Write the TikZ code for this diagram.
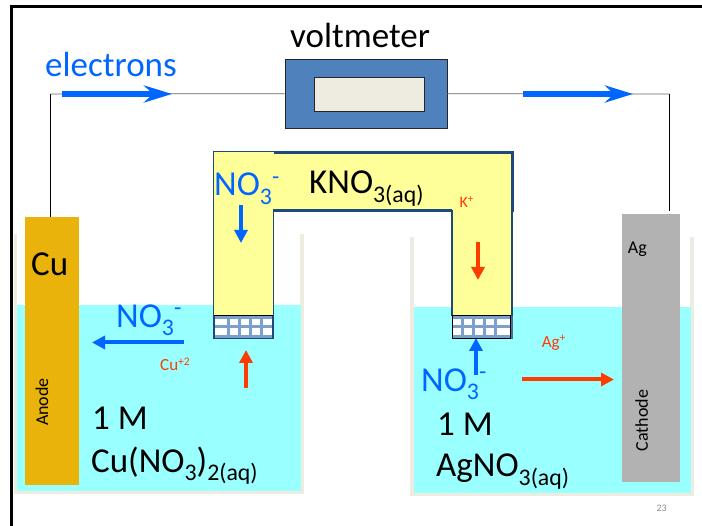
\documentclass[tikz,border=0pt]{standalone}
\usepackage{fontspec}
\setmainfont{Carlito}
\usetikzlibrary{arrows.meta}

\definecolor{copperfill}{HTML}{E9B30B}
\definecolor{silverfill}{HTML}{B2B2B2}
\definecolor{waterfill}{HTML}{99FFFF}
\definecolor{wallcolor}{HTML}{EEECE1}
\definecolor{bridgefill}{HTML}{FFFF99}
\definecolor{bridgeline}{HTML}{1F497D}
\definecolor{meterfill}{HTML}{4F81BD}
\definecolor{elecblue}{HTML}{0066FF}
\definecolor{ionred}{HTML}{FF3C00}

\newcommand{\lowtext}[1]{\raisebox{-.23em}{\scalebox{.68}{#1}}}
\newcommand{\hightext}[1]{\raisebox{.34em}{\scalebox{.68}{#1}}}

\tikzset{
  bigtext/.style={anchor=base west, inner sep=0pt, font=\fontsize{35}{35}\selectfont},
  midtext/.style={anchor=base west, inner sep=0pt, font=\fontsize{18}{18}\selectfont},
  tinytext/.style={anchor=base west, inner sep=0pt, text=ionred, font=\fontsize{17}{17}\selectfont},
  electrode/.style={inner sep=0pt, minimum width=#1, anchor=north west},
  meterbox/.style={draw=black!85, inner sep=0pt, anchor=north west},
  wire/.style={line width=.8pt, draw=black},
  flowarrow/.style={line width=6pt, draw=elecblue, -{Stealth[length=28pt, width=17pt, inset=9pt]}},
  bluearrow/.style={line width=4pt, draw=elecblue, -{Triangle[length=13pt, width=13pt]}},
  redarrow/.style={line width=4pt, draw=ionred, -{Triangle[length=13pt, width=13pt]}},
  gridline/.style={line width=3pt, draw=meterfill!75},
}

\begin{document}
\begin{tikzpicture}[x=1pt, y=-1pt]
  \useasboundingbox (0,0) rectangle (702,526);

  % slide frame
  \draw[line width=3pt] (11,526) -- (11,7) -- (702,7);

  % beakers
  \draw[wallcolor, line width=3.5pt] (15.5,234) -- (15.5,492.5) -- (302,492.5) -- (302,234);
  \draw[wallcolor, line width=3.5pt] (412,237) -- (412,494.5) -- (692,494.5) -- (692,237);
  \fill[waterfill] (17,305) rectangle (301,491);
  \fill[waterfill] (414,307) rectangle (691,493);

  % electrodes
  \node[electrode=54pt, minimum height=268pt, fill=copperfill] (cu) at (25,217) {};
  \node[electrode=58pt, minimum height=268pt, fill=silverfill] (ag) at (622,214) {};

  % voltmeter
  \node[meterbox, fill=meterfill, minimum width=162.5pt, minimum height=69pt] (voltmeter) at (284.5,59) {};
  \node[meterbox, fill=wallcolor, minimum width=110pt, minimum height=34.5pt] (display) at (313.5,76.7) {};

  % wires
  \coordinate (wireleft) at (50.5,94);
  \coordinate (wireright) at (669.3,94);
  \coordinate (wireend) at (669.3,210.7);
  \draw[wire] (wireleft |- cu.north) -- (wireleft);
  \draw[wire, draw=black!60] (wireleft) -- (voltmeter.west);
  \draw[wire, draw=black!60] (voltmeter.east) -- (wireright);
  \draw[wire] (wireright) -- (wireend);

  % salt bridge
  \filldraw[fill=bridgefill, draw=bridgeline, line width=3pt] (214,152.5) rectangle (512,210.5);
  \fill[bridgefill] (213.5,152) rectangle (273.5,316);
  \fill[bridgefill] (452,209) rectangle (512,316);
  \draw[bridgeline, line width=1.2pt] (213.5,151) -- (213.5,316);
  \draw[bridgeline, line width=1.2pt] (273.5,209.5) -- (273.5,316);
  \draw[bridgeline, line width=1.2pt] (452,210) -- (452,316);
  \draw[bridgeline, line width=1.2pt] (512,209) -- (512,316);

  % plugs at the ends of the bridge
  \fill[white] (214,316) rectangle (273,338.5);
  \foreach \x in {228,239,250,261} {
    \draw[gridline] (\x,316) -- (\x,338.5);
  }
  \draw[gridline] (214,326.7) -- (273,326.7);
  \draw[gridline] (214,318) -- (273,318);
  \draw[gridline] (214,337) -- (273,337);
  \draw[bridgeline, line width=1.5pt] (214,316) -- (214,338.7) -- (273,338.7) -- (273,316);
  \draw[black, line width=1pt] (214,316) -- (273,316);

  \fill[bridgeline!80] (506,316) rectangle (513,338.7);
  \fill[white] (452,316) rectangle (510,338.5);
  \foreach \x in {462.3,473.3,484.3,495.3} {
    \draw[gridline] (\x,316) -- (\x,338.5);
  }
  \draw[gridline] (452,326.7) -- (510,326.7);
  \draw[gridline] (452,318) -- (510,318);
  \draw[gridline] (452,337) -- (510,337);
  \draw[black, line width=1pt] (452,316) -- (452,338.7) -- (510,338.7) -- (510,316) -- cycle;

  % arrow ends
  \coordinate (flowa) at (62,94);
  \coordinate (flowb) at (172,94);
  \coordinate (flowc) at (523,94);
  \coordinate (flowd) at (633,94);
  \coordinate (nitratea) at (241,205);
  \coordinate (nitrateb) at (241,243);
  \coordinate (nitratec) at (184,342.5);
  \coordinate (nitrated) at (92,342.5);
  \coordinate (nitratee) at (476,375);
  \coordinate (nitratef) at (476,338);
  \coordinate (ionA) at (478,242);
  \coordinate (ionB) at (478,280);
  \coordinate (ionC) at (246,388);
  \coordinate (ionD) at (246,350);
  \coordinate (ionE) at (522,379.5);
  \coordinate (ionF) at (614,379.5);

  \draw[flowarrow] (flowa) -- (flowb);
  \draw[flowarrow] (flowc) -- (flowd);
  \draw[bluearrow] (nitratea) -- (nitrateb);
  \draw[bluearrow] (nitratec) -- (nitrated);
  \draw[bluearrow] (nitratee) -- (nitratef);
  \draw[redarrow] (ionA) -- (ionB);
  \draw[redarrow] (ionC) -- (ionD);
  \draw[redarrow] (ionE) -- (ionF);

  % labels
  \node[bigtext] (metertext) at (290,48) {voltmeter};
  \node[bigtext, text=elecblue] (electrons) at (45,77) {electrons};
  \node[bigtext, text=elecblue] (nitratetop) at (214,196) {NO\lowtext{3}\hightext{-}};
  \node[bigtext] (bridgetext) at (309,194) {KNO\lowtext{3(aq)}};
  \node[tinytext, font=\fontsize{16}{16}\selectfont] (potassium) at (459.3,207.7) {K\hightext{+}};
  \node[bigtext] (cutext) at (31,276) {Cu};
  \node[midtext] (agtext) at (627.7,254) {Ag};
  \node[midtext, anchor=center, rotate=90] (anode) at (42,402) {Anode};
  \node[midtext, anchor=center, rotate=90] (cathode) at (641.7,420.7) {Cathode};
  \node[bigtext, text=elecblue] (nitrateleft) at (116,327.7) {NO\lowtext{3}\hightext{-}};
  \node[bigtext, text=elecblue] (nitrateright) at (421,391.7) {NO\lowtext{3}\hightext{-}};
  \node[tinytext] (copperion) at (160,371) {Cu\hightext{+2}};
  \node[tinytext] (silverion) at (541.7,347.7) {Ag\hightext{+}};
  \node[bigtext] (molara) at (92,430) {1 M};
  \node[bigtext] (molarb) at (437,435.7) {1 M};
  \node[bigtext] (coppersalt) at (91,472.7) {Cu(NO\lowtext{3})\lowtext{2(aq)}};
  \node[bigtext] (silversalt) at (436,477) {AgNO\lowtext{3(aq)}};
  \node[anchor=center, inner sep=0pt, text=black!45, font=\fontsize{10}{10}\selectfont] (pagenum) at (661.7,508.3) {23};
\end{tikzpicture}
\end{document}
